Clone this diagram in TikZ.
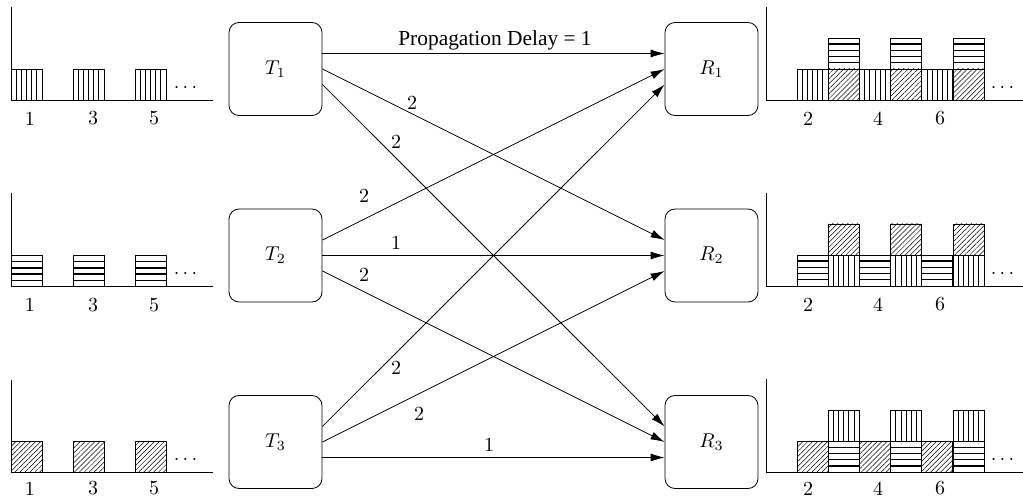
\documentclass[tikz,border=0pt]{standalone}
\usepackage{fontspec}
\newfontfamily\tms{Liberation Serif}
\usetikzlibrary{arrows.meta,patterns.meta,calc}
% bar with vertical stripes, lower-left corner (#1,#2)
\newcommand\barV[2]{%
  \draw (#1,#2) rectangle ++(31,-31);
  \foreach \k in {1,...,5}{\draw (#1+\k*5.17,#2) -- ++(0,-31);}%
}
% bar with horizontal stripes
\newcommand\barH[2]{%
  \draw (#1,#2) rectangle ++(31,-31);
  \foreach \k in {1,...,4}{\draw[line width=0.7pt] (#1,#2-\k*6.2) -- ++(31,0);}%
}
% bar with diagonal hatching
\newcommand\barD[2]{%
  \draw[pattern={Lines[angle=45,distance=1.75pt,line width=0.25pt]}] (#1,#2) rectangle ++(31,-31);%
}
% left chart: #1 baseline, #2 bar macro, #3 name suffix, #4 label offset
\newcommand\leftchart[4]{%
  \draw (11,#1-93) -- (11,#1) -- (213,#1);
  #2{11}{#1}#2{73}{#1}#2{135}{#1}
  \node[lbl] (ld#3) at (185.5,#1-12) {$\cdots$};
  \node[lbl] (la#3) at (30,#1+#4) {1};
  \node[lbl] (lb#3) at (93,#1+#4) {3};
  \node[lbl] (lc#3) at (154,#1+#4) {5};
}
% right chart: #1 baseline, #2 lower at odd slots, #3 lower at even slots, #4 upper, #5 name suffix, #6 label offset
\newcommand\rightchart[6]{%
  \draw (766,#1-93) -- (766,#1) -- (1023,#1);
  \foreach \xx in {797,859.4,921.8}{#2{\xx}{#1}}
  \foreach \xx in {828.2,890.6,953}{#3{\xx}{#1}#4{\xx}{#1-31}}
  \node[lbl] (rd#5) at (1002.5,#1-12) {$\cdots$};
  \node[lbl] (ra#5) at (808,#1+#6) {2};
  \node[lbl] (rb#5) at (878,#1+#6) {4};
  \node[lbl] (rc#5) at (940,#1+#6) {6};
}
\begin{document}
\begin{tikzpicture}[x=0.5pt,y=-0.5pt,
  tbox/.style={draw,rounded corners=5pt,minimum width=46.5pt,minimum height=46.5pt,inner sep=0pt},
  link/.style={-{Latex[length=7pt,width=4pt]}},
  lbl/.style={inner sep=0pt}]
\useasboundingbox (0,0) rectangle (1023,497);

% charts
\leftchart{100}{\barV}{1}{18.5}
\leftchart{286.5}{\barH}{2}{18.5}
\leftchart{472.5}{\barD}{3}{16}
\rightchart{100}{\barV}{\barD}{\barH}{1}{18.5}
\rightchart{286}{\barH}{\barV}{\barD}{2}{18.5}
\rightchart{472}{\barD}{\barH}{\barV}{3}{16.5}

% boxes
\node[tbox] (T1) at (275.5,69) {$T_1$};
\node[tbox] (T2) at (275.5,255.5) {$T_2$};
\node[tbox] (T3) at (275.5,442) {$T_3$};
\node[tbox] (R1) at (711.5,69) {$R_1$};
\node[tbox] (R2) at (711.5,255.5) {$R_2$};
\node[tbox] (R3) at (711.5,442) {$R_3$};

% ports
\foreach \n in {T1,T2,T3}{
  \coordinate (\n a) at ($(\n.east)+(0,-15.5)$);
  \coordinate (\n b) at (\n.east);
  \coordinate (\n c) at ($(\n.east)+(0,15.5)$);
}
\foreach \n in {R1,R2,R3}{
  \coordinate (\n a) at ($(\n.west)+(0,-15.5)$);
  \coordinate (\n b) at (\n.west);
  \coordinate (\n c) at ($(\n.west)+(0,15.5)$);
}

% connectors
\draw[link] (T1a) -- (R1a);
\draw[link] (T1b) -- (R2a);
\draw[link] (T1c) -- (R3a);
\draw[link] (T2a) -- (R1b);
\draw[link] (T2b) -- (R2b);
\draw[link] (T2c) -- (R3b);
\draw[link] (T3a) -- (R1c);
\draw[link] (T3b) -- (R2c);
\draw[link] (T3c) -- (R3c);

% delay labels
\node[lbl] (d11) at (495,40) {\fontsize{10.7}{12}\tms Propagation Delay = 1};
\node[lbl] (d12) at (412,103) {2};
\node[lbl] (d13) at (396,142) {2};
\node[lbl] (d21) at (364,196) {2};
\node[lbl] (d22) at (396,243) {1};
\node[lbl] (d23) at (364,275) {2};
\node[lbl] (d31) at (396,368) {2};
\node[lbl] (d32) at (419,414) {2};
\node[lbl] (d33) at (489,445) {1};
\end{tikzpicture}
\end{document}
